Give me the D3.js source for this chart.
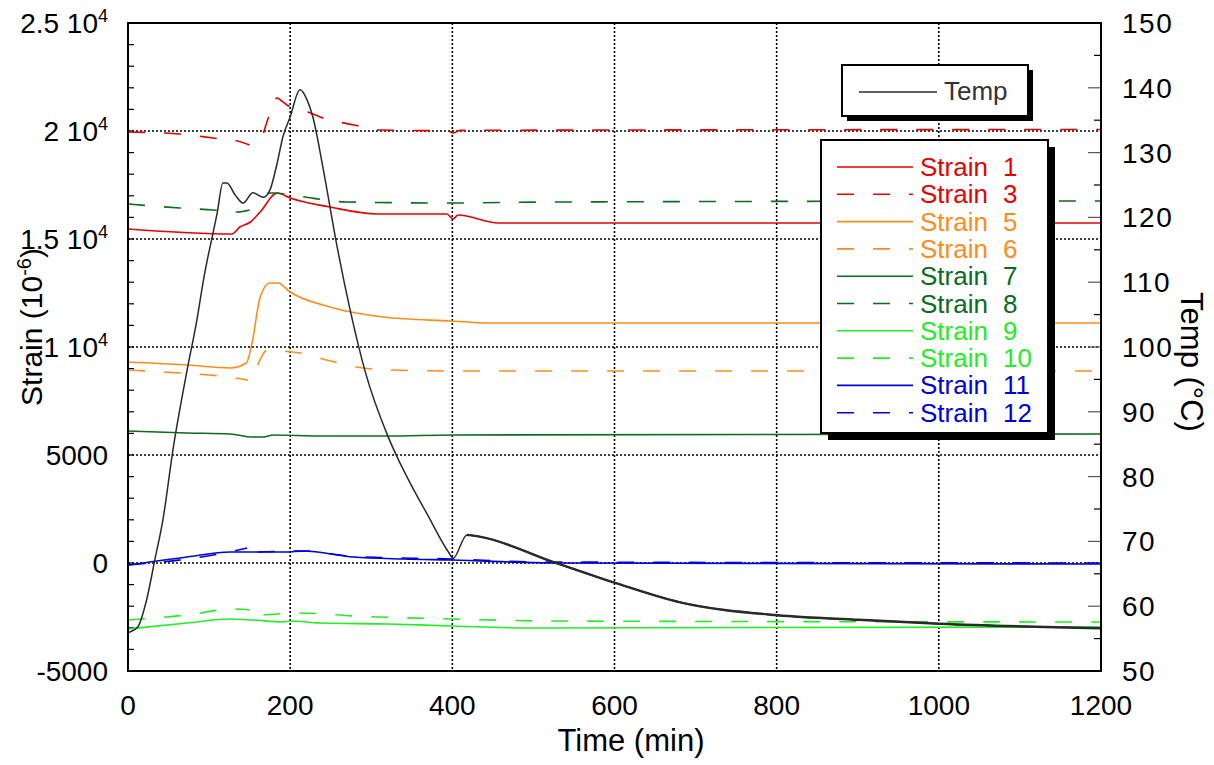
<!DOCTYPE html>
<html>
<head>
<meta charset="utf-8">
<script src="https://cdn.jsdelivr.net/npm/d3@7"></script>
<style>
  html, body { margin: 0; padding: 0; background: #fff; }
  svg { display: block; font-family: "Liberation Sans", Arial, sans-serif; }
</style>
</head>
<body>
<svg id="chart" width="1214" height="765"></svg>
<script>
// ---------------- DATA ----------------
const xTicks = [0, 200, 400, 600, 800, 1000, 1200];
const yTicks = [-5000, 0, 5000, 10000, 15000, 20000, 25000];
const tempTicks = [50, 60, 70, 80, 90, 100, 110, 120, 130, 140, 150];

// Temperature (right axis, °C)
const tempTime = [0, 2, 12, 23, 33, 43, 56, 73, 85, 93, 110, 117, 122, 132, 142, 154, 167, 175, 184, 191, 200, 212, 221, 228, 241, 258, 274, 293, 320, 332, 348, 369, 395, 401, 418, 435, 525, 601, 681, 801, 901, 1001, 1200];
const tempVals = [55.9, 56.0, 56.8, 61.0, 67.1, 73.3, 84.6, 96.5, 104.2, 110.3, 120.7, 125.3, 125.3, 123.5, 122.2, 123.8, 123.1, 124.2, 128.4, 132.4, 135.5, 139.7, 138.1, 135.5, 127.3, 115.4, 105.7, 96.0, 86.4, 83.0, 79.0, 74.2, 68.4, 67.4, 71.0, 70.7, 66.8, 63.6, 60.6, 58.6, 57.9, 57.3, 56.6];

// Strain series (left axis, 10^-6); null = gap in recording
const s1Time = [0, 128, 138, 151, 163, 184, 200, 249, 307, 393, 401, 407, 457, 1200];
const s1Vals = [15463, 15231, 15556, 15787, 16250, 17130, 16898, 16481, 16157, 16157, 15926, 16111, 15741, 15741];

const s3Time = [0, 64, 105, 135, 150, 158, 167, 173, 184, 188, 196, 222, 237, 279, 312, 395, 401, 410, 1200];
const s3Vals = [19954, 19861, 19676, 19537, 19352, null, 19907, 20602, 21528, 21435, 21204, 20880, 20648, 20278, 20046, 20000, 19910, 20030, 20070];

const s5Time = [0, 73, 126, 146, 153, 163, 175, 185, 200, 249, 315, 398, 447, 1200];
const s5Vals = [9305, 9167, 9028, 9259, 10185, 12315, 12963, 12963, 12546, 11852, 11389, 11204, 11111, 11111];

const s6Time = [0, 64, 114, 148, 154, 160, 172, 191, 212, 245, 290, 327, 400, 1200];
const s6Vals = [8935, 8796, 8657, 8472, null, 9167, 9861, 9815, 9722, 9398, 9028, 8935, 8889, 8889];

const s7Time = [0, 73, 126, 154, 167, 179, 237, 320, 400, 1200];
const s7Vals = [6111, 6019, 5972, 5833, 5833, 5926, 5880, 5880, 5926, 5972];

const s8Time = [0, 64, 105, 135, 150, 160, 172, 179, 209, 270, 400, 523, 1200];
const s8Vals = [16620, 16435, 16343, 16250, 16343, null, 17130, 17130, 16991, 16713, 16667, 16713, 16759];

const s9Time = [0, 73, 126, 154, 191, 200, 237, 320, 400, 494, 1200];
const s9Vals = [-3056, -2778, -2593, -2639, -2731, -2685, -2778, -2824, -2917, -3009, -2960];

const s10Time = [0, 73, 130, 150, 158, 167, 212, 279, 400, 520, 1200];
const s10Vals = [-2639, -2407, -2130, -2176, null, -2407, -2315, -2454, -2593, -2685, -2731];

const s11Time = [0, 73, 126, 195, 216, 278, 340, 400, 525, 1200];
const s11Vals = [-93, 278, 509, 509, 556, 278, 185, 139, 0, -46];

const s12Time = [0, 98, 136, 147, 153, 160, 216, 278, 400, 500, 1200];
const s12Vals = [-93, 324, 602, 694, null, 509, 556, 300, 185, 50, 0];

const seriesNames = ["Strain 1", "Strain 3", "Strain 5", "Strain 6", "Strain 7", "Strain 8", "Strain 9", "Strain 10", "Strain 11", "Strain 12"];
const seriesColors = ["#e60000", "#e60000", "#ff8c1a", "#ff8c1a", "#0b6b1f", "#0b6b1f", "#22ee22", "#22ee22", "#0000dd", "#0000dd"];
const seriesDashed = [false, true, false, true, false, true, false, true, false, true];
const seriesTimes = [s1Time, s3Time, s5Time, s6Time, s7Time, s8Time, s9Time, s10Time, s11Time, s12Time];
const seriesValues = [s1Vals, s3Vals, s5Vals, s6Vals, s7Vals, s8Vals, s9Vals, s10Vals, s11Vals, s12Vals];

// ---------------- CHART ----------------
const svg = d3.select("#chart");
const L = 128, R = 1101, T = 23, B = 671;

const x = d3.scaleLinear().domain([0, 1200]).range([L, R]);
const y = d3.scaleLinear().domain([-5000, 25000]).range([B, T]);
const yT = d3.scaleLinear().domain([50, 150]).range([B, T]);

// Grid
const grid = svg.append("g");
xTicks.filter(d => d > 0 && d < 1200).forEach(d => {
  grid.append("line").attr("x1", x(d)).attr("x2", x(d)).attr("y1", T).attr("y2", B)
    .attr("stroke", "#000").attr("stroke-width", 1.6).attr("stroke-dasharray", "2,2");
});
yTicks.filter(d => d > -5000 && d < 25000).forEach(d => {
  grid.append("line").attr("x1", L).attr("x2", R).attr("y1", y(d)).attr("y2", y(d))
    .attr("stroke", "#000").attr("stroke-width", 1.6).attr("stroke-dasharray", "2,2");
});

// Minor ticks
const ticks = svg.append("g");
d3.range(-5000, 25001, 1000).forEach(d => {
  ticks.append("line").attr("x1", L).attr("x2", L + 6).attr("y1", y(d)).attr("y2", y(d))
    .attr("stroke", "#000").attr("stroke-width", 1.2);
});
d3.range(50, 151, 5).forEach(d => {
  const len = d % 10 === 0 ? 13 : 7;
  ticks.append("line").attr("x1", R - len).attr("x2", R).attr("y1", yT(d)).attr("y2", yT(d))
    .attr("stroke", d % 10 === 0 ? "#555" : "#000").attr("stroke-width", 1.2);
});

// Lines
const lines = svg.append("g");
seriesNames.forEach((name, i) => {
  const pts = seriesTimes[i].map((t, k) => [t, seriesValues[i][k]]);
  const gen = d3.line().defined(d => d[1] !== null).curve(d3.curveMonotoneX)
    .x(d => x(d[0])).y(d => y(d[1]));
  lines.append("path").attr("d", gen(pts)).attr("fill", "none")
    .attr("stroke", seriesColors[i]).attr("stroke-width", 1.6)
    .attr("stroke-dasharray", seriesDashed[i] ? "17,19" : null);
});
const tempPts = tempTime.map((t, k) => [t, tempVals[k]]);
const tGen = d3.line().curve(d3.curveMonotoneX).x(d => x(d[0])).y(d => yT(d[1]));
lines.append("path").attr("d", tGen(tempPts))
  .attr("fill", "none").attr("stroke", "#2a2a2a").attr("stroke-width", 1.5);
// noisier (thicker) portion of the cooling trace
lines.append("path").attr("d", tGen(tempPts.filter(d => d[0] >= 418)))
  .attr("fill", "none").attr("stroke", "#2a2a2a").attr("stroke-width", 2.4);

// Frame
svg.append("rect").attr("x", L).attr("y", T).attr("width", R - L).attr("height", B - T)
  .attr("fill", "none").attr("stroke", "#000").attr("stroke-width", 2);

// Axis labels
const fs = 28;
xTicks.forEach(d => {
  svg.append("text").attr("x", x(d)).attr("y", 715).attr("text-anchor", "middle")
    .attr("font-size", fs).attr("fill", "#000").text(d);
});
yTicks.forEach(d => {
  const t = svg.append("text").attr("x", 108).attr("y", y(d)).attr("dy", "0.36em")
    .attr("text-anchor", "end").attr("font-size", fs).attr("fill", "#000");
  if (Math.abs(d) >= 10000) {
    t.append("tspan").text((d / 10000) + " 10");
    t.append("tspan").attr("dy", -11).attr("font-size", 18).text("4");
  } else {
    t.text(d);
  }
});
tempTicks.forEach(d => {
  svg.append("text").attr("x", 1122).attr("y", yT(d)).attr("dy", "0.36em")
    .attr("text-anchor", "start").attr("font-size", fs).attr("letter-spacing", 1.5).attr("fill", "#000").text(d);
});

// Axis titles
svg.append("text").attr("x", 631).attr("y", 751).attr("text-anchor", "middle")
  .attr("font-size", 31).attr("fill", "#000").text("Time (min)");
const yt = svg.append("text").attr("transform", "translate(42,327) rotate(-90)")
  .attr("text-anchor", "middle").attr("font-size", 30).attr("fill", "#000");
yt.append("tspan").text("Strain (10");
yt.append("tspan").attr("dy", -11).attr("font-size", 20).text("-6");
yt.append("tspan").attr("dy", 11).text(")");
svg.append("text").attr("transform", "translate(1181,362) rotate(90)")
  .attr("text-anchor", "middle").attr("font-size", 31).attr("fill", "#000").text("Temp (°C)");

// Temp legend
const lg1 = svg.append("g");
lg1.append("rect").attr("x", 847).attr("y", 70).attr("width", 186).attr("height", 51).attr("fill", "#000");
lg1.append("rect").attr("x", 842).attr("y", 65).attr("width", 186).attr("height", 51)
  .attr("fill", "#fff").attr("stroke", "#000").attr("stroke-width", 2);
lg1.append("line").attr("x1", 859).attr("x2", 937).attr("y1", 92).attr("y2", 92)
  .attr("stroke", "#2a2a2a").attr("stroke-width", 1.5);
lg1.append("text").attr("x", 944).attr("y", 100).attr("font-size", 26).attr("fill", "#333").text("Temp");

// Strain legend
const lg2 = svg.append("g");
lg2.append("rect").attr("x", 828).attr("y", 147).attr("width", 227).attr("height", 293).attr("fill", "#000");
lg2.append("rect").attr("x", 821).attr("y", 140).attr("width", 227).attr("height", 293)
  .attr("fill", "#fff").attr("stroke", "#000").attr("stroke-width", 2);
seriesNames.forEach((name, i) => {
  const cy = 167 + i * 27.3;
  lg2.append("line").attr("x1", 837).attr("x2", 913).attr("y1", cy).attr("y2", cy)
    .attr("stroke", seriesColors[i]).attr("stroke-width", 1.6)
    .attr("stroke-dasharray", seriesDashed[i] ? "17,19" : null);
  const parts = name.split(" ");
  lg2.append("text").attr("x", 920).attr("y", cy + 9).attr("font-size", 26)
    .attr("fill", seriesColors[i]).text(parts[0]);
  lg2.append("text").attr("x", 1003).attr("y", cy + 9).attr("font-size", 26)
    .attr("fill", seriesColors[i]).text(parts[1]);
});
</script>
</body>
</html>
